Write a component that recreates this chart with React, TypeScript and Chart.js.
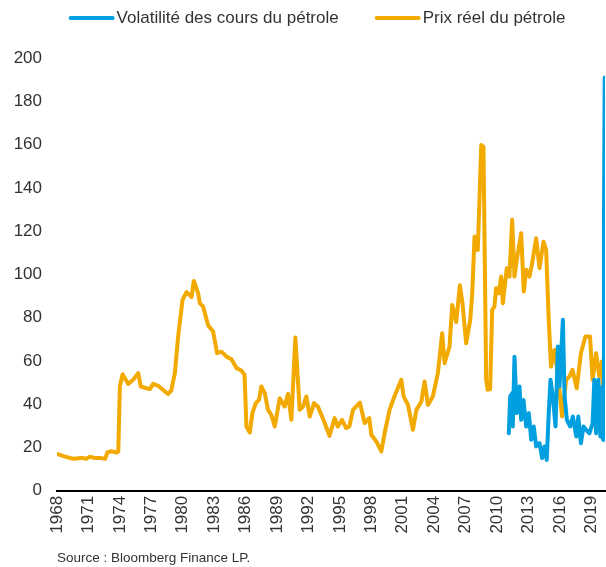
import React, { useEffect, useRef } from "react";
import { Chart, registerables } from "chart.js";

Chart.register(...registerables);

const volLabel = "Volatilité des cours du pétrole";
const priceLabel = "Prix réel du pétrole";
const sourceText = "Source : Bloomberg Finance LP.";

const xTickStart = 1968;
const xTickEnd = 2019;
const xTickStep = 3;
const yTicks = [0, 20, 40, 60, 80, 100, 120, 140, 160, 180, 200];

const priceYears = [
  1968.0, 1968.76, 1969.55, 1970.35, 1970.8, 1971.1, 1971.6, 1972.1, 1972.6, 1972.8,
  1973.2, 1973.7, 1973.85, 1974.0, 1974.26, 1974.8, 1975.27, 1975.75, 1976.0, 1976.55,
  1976.87, 1977.18, 1977.66, 1978.1, 1978.6, 1978.9, 1979.25, 1979.56, 1979.98, 1980.36,
  1980.84, 1981.06, 1981.47, 1981.63, 1981.95, 1982.42, 1982.9, 1983.28, 1983.7, 1984.18,
  1984.65, 1985.13, 1985.6, 1985.9, 1986.08, 1986.4, 1986.65, 1986.97, 1987.28, 1987.5,
  1987.83, 1988.14, 1988.46, 1988.78, 1989.26, 1989.73, 1990.05, 1990.37, 1990.75, 1991.16,
  1991.48, 1991.8, 1992.12, 1992.53, 1992.9, 1993.23, 1993.55, 1994.0, 1994.5, 1994.8,
  1995.2, 1995.6, 1995.9, 1996.25, 1996.9, 1997.36, 1997.8, 1998.0, 1998.47, 1998.95,
  1999.27, 1999.74, 2000.2, 2000.86, 2001.08, 2001.5, 2001.97, 2002.3, 2002.77, 2003.08,
  2003.4, 2003.87, 2004.35, 2004.76, 2004.99, 2005.46, 2005.72, 2006.1, 2006.45, 2006.7,
  2007.05, 2007.44, 2007.63, 2007.85, 2008.16, 2008.49, 2008.7, 2008.96, 2009.1, 2009.34,
  2009.53, 2009.75, 2009.91, 2010.16, 2010.39, 2010.55, 2010.93, 2011.18, 2011.44, 2011.66,
  2011.88, 2012.3, 2012.55, 2012.78, 2013.09, 2013.35, 2013.73, 2014.05, 2014.43, 2014.68,
  2014.93, 2015.15, 2015.47, 2015.79, 2016.2, 2016.59, 2016.9, 2017.2, 2017.6, 2018.0,
  2018.43, 2018.87, 2019.12, 2019.45, 2019.76, 2020.0, 2020.24,
];
const priceValues = [
  17.0, 15.8, 14.8, 15.2, 14.8, 15.7, 15.2, 15.2, 14.8, 17.7,
  18.3, 17.7, 18.2, 48.2, 53.9, 49.4, 51.3, 54.4, 48.2, 47.4,
  47.0, 49.4, 48.5, 46.7, 44.7, 46.3, 54.4, 71.3, 88.2, 91.8,
  89.5, 97.0, 91.3, 86.7, 85.1, 76.5, 73.6, 63.6, 64.3, 62.0,
  60.8, 56.7, 55.6, 53.6, 29.7, 26.9, 35.9, 40.5, 42.0, 48.2,
  45.1, 37.4, 35.1, 29.7, 42.8, 38.9, 44.8, 32.8, 70.8, 37.4,
  38.9, 43.6, 34.3, 40.5, 38.9, 35.1, 31.3, 25.4, 33.6, 29.7,
  32.8, 29.0, 29.7, 37.4, 40.8, 31.3, 33.6, 25.9, 22.8, 18.2,
  26.7, 37.4, 43.6, 51.3, 43.6, 39.7, 28.2, 37.4, 41.2, 50.5,
  39.7, 43.6, 54.4, 72.8, 59.0, 66.7, 85.9, 78.0, 95.0, 86.7,
  68.2, 79.0, 91.3, 117.5, 111.3, 159.8, 159.0, 51.3, 46.7, 47.0,
  83.6, 85.1, 93.6, 91.3, 99.0, 86.7, 102.9, 99.0, 125.2, 99.0,
  106.7, 119.0, 92.1, 102.1, 99.0, 105.2, 116.7, 102.9, 115.1, 111.3,
  79.0, 57.4, 65.1, 54.4, 34.3, 51.3, 52.8, 55.9, 47.4, 63.6,
  71.3, 71.3, 51.3, 63.6, 52.8, 59.7, 29.7,
];

const volYears = [
  2011.12, 2011.25, 2011.44, 2011.5, 2011.66, 2011.88, 2012.14, 2012.3, 2012.52, 2012.78,
  2013.03, 2013.26, 2013.5, 2013.73, 2014.05, 2014.3, 2014.52, 2014.74, 2014.93, 2015.1,
  2015.32, 2015.58, 2015.8, 2015.96, 2016.28, 2016.44, 2016.66, 2016.98, 2017.23, 2017.56,
  2017.75, 2018.0, 2018.25, 2018.5, 2018.82, 2019.12, 2019.28, 2019.45, 2019.67, 2019.86,
  2020.08, 2020.12, 2020.2, 2020.27,
];
const volValues = [
  26.6, 43.6, 45.1, 29.7, 62.0, 35.9, 48.2, 32.8, 42.0, 29.7,
  35.9, 23.6, 29.7, 20.5, 22.0, 15.1, 20.5, 14.3, 35.9, 51.3,
  43.6, 29.7, 66.7, 48.2, 79.0, 43.6, 32.8, 29.7, 34.3, 25.1,
  34.3, 22.0, 29.7, 28.2, 26.6, 31.3, 51.3, 26.6, 51.3, 25.1,
  48.2, 23.6, 124.0, 191.0,
];

const BLUE = "#009FDF";
const ORANGE = "#F2A900";
const TEXT = "#333333";
const FONT = "'Liberation Sans', Arial, sans-serif";

const lineLegend = {
  id: "lineLegend",
  afterDraw(chart: any) {
    const ctx = chart.ctx;
    const items = chart.data.datasets.map((d: any) => ({ text: d.label, color: d.borderColor }));
    ctx.save();
    ctx.font = `17px ${FONT}`;
    const lineLen = 46;
    const gapText = 2;
    const gapItem = 36;
    let total = 0;
    items.forEach((it: any, i: number) => {
      total += lineLen + gapText + ctx.measureText(it.text).width + (i < items.length - 1 ? gapItem : 0);
    });
    let x = chart.width / 2 + 14 - total / 2;
    const y = 18;
    items.forEach((it: any) => {
      ctx.strokeStyle = it.color;
      ctx.lineWidth = 4;
      ctx.lineCap = "round";
      ctx.beginPath();
      ctx.moveTo(x + 2, y);
      ctx.lineTo(x + lineLen - 2, y);
      ctx.stroke();
      x += lineLen + gapText;
      ctx.fillStyle = TEXT;
      ctx.textBaseline = "middle";
      ctx.textAlign = "left";
      ctx.fillText(it.text, x, y);
      x += ctx.measureText(it.text).width + gapItem;
    });
    ctx.restore();
  },
};

export default function App() {
  const ref = useRef<HTMLCanvasElement | null>(null);

  useEffect(() => {
    if (!ref.current) return;
    const volData = volYears.map((x, i) => ({ x, y: volValues[i] }));
    const priceData = priceYears.map((x, i) => ({ x, y: priceValues[i] }));
    const chart = new Chart(ref.current, {
      type: "line",
      data: {
        datasets: [
          {
            label: volLabel,
            data: volData,
            borderColor: BLUE,
            backgroundColor: BLUE,
            borderWidth: 4,
            pointRadius: 0,
            tension: 0,
            borderJoinStyle: "round",
            borderCapStyle: "round",
          },
          {
            label: priceLabel,
            data: priceData,
            borderColor: ORANGE,
            backgroundColor: ORANGE,
            borderWidth: 4,
            pointRadius: 0,
            tension: 0,
            borderJoinStyle: "round",
            borderCapStyle: "round",
          },
        ],
      },
      options: {
        responsive: false,
        animation: false,
        layout: { padding: { top: 58, left: 0, right: 1, bottom: 1 } },
        plugins: {
          legend: { display: false },
          tooltip: { enabled: false },
          title: {
            display: true,
            text: sourceText,
            position: "bottom",
            align: "start",
            fullSize: false,
            color: TEXT,
            font: { family: FONT, size: 13.5, weight: "normal" },
            padding: { top: 15, bottom: 0 },
          },
        },
        scales: {
          x: {
            type: "linear",
            min: xTickStart,
            max: 2020.3,
            grid: { display: false, drawTicks: false },
            border: { display: true, color: "#000000", width: 2 },
            afterFit: (scale: any) => {
              scale.paddingLeft = 0;
              scale.paddingRight = 0;
              scale.height = 44;
            },
            ticks: {
              stepSize: xTickStep,
              includeBounds: false,
              autoSkip: false,
              minRotation: 90,
              maxRotation: 90,
              padding: 5,
              color: TEXT,
              font: { family: FONT, size: 17 },
              callback: (v: any) => (v >= xTickStart && v <= xTickEnd ? String(v) : ""),
            },
          },
          y: {
            min: yTicks[0],
            max: yTicks[yTicks.length - 1],
            grid: { display: false, drawTicks: false },
            border: { display: false },
            afterFit: (scale: any) => {
              scale.width = 57;
            },
            ticks: {
              stepSize: yTicks[1] - yTicks[0],
              padding: 15,
              color: TEXT,
              font: { family: FONT, size: 17 },
            },
          },
        },
      },
      plugins: [lineLegend],
    });
    return () => chart.destroy();
  }, []);

  return (
    <div style={{ position: "absolute", left: 0, top: 0, width: 606, height: 567, background: "#fff" }}>
      <canvas ref={ref} width={606} height={567} />
    </div>
  );
}
